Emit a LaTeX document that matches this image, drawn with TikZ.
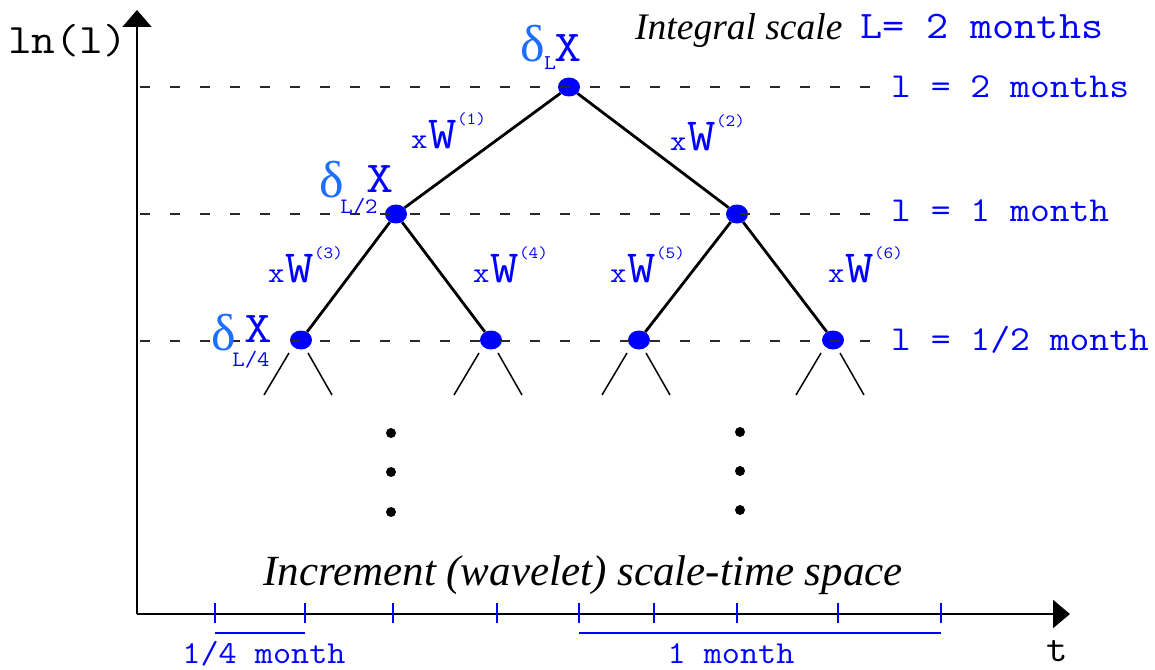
\documentclass[tikz,border=0pt]{standalone}
\usepackage{fontspec}
\usepackage{graphicx}
\setmainfont{Liberation Serif}
\usetikzlibrary{arrows.meta,shapes.geometric}
\definecolor{myblue}{RGB}{0,0,255}
\definecolor{dblue}{RGB}{30,110,255}
\definecolor{dashgray}{RGB}{40,40,40}
\newcommand\myfs[1]{\fontsize{#1}{#1}\selectfont}
\newcommand\cw[2]{\scalebox{1.1}[1]{\myfs{#1}#2}}
\newcommand\wlab[1]{\cw{29}{x}\kern1pt\scalebox{1.2}[1]{\myfs{46}W}\raisebox{24pt}{\cw{17}{(#1)}}}
\begin{document}
\begin{tikzpicture}[x=1pt,y=-1pt,
  bn/.style={ellipse,fill=myblue,draw=none,inner sep=0pt,minimum width=22pt,minimum height=19pt},
  dotn/.style={circle,fill=black,draw=none,inner sep=0pt,minimum size=10pt},
  tree/.style={line width=2.8pt,black},
  branch/.style={line width=1.5pt,black},
  dashline/.style={line width=1.2pt,dashgray,dash pattern=on 10pt off 20pt,dash phase=27pt},
  axis/.style={line width=2pt,black},
  tickmark/.style={line width=2pt,myblue},
  bar/.style={line width=2pt,myblue},
  mono/.style={inner sep=0pt,font=\ttfamily,text=myblue},
  dlt/.style={inner sep=0pt,text=dblue,font=\myfs{52}},
  ]
\path[use as bounding box] (0,0) rectangle (1155,669);

% axes
\coordinate (O) at (137,614);
\coordinate (Ytop) at (137,10);
\coordinate (Xend) at (1070,614);
\draw[axis,-{Triangle[length=17pt,width=29pt]}] (O) -- (Ytop);
\draw[axis,-{Triangle[length=17pt,width=28pt]}] (O) -- (Xend);

% ticks and bars
\foreach \x in {215,305,393,497,579,654,737,838,941}
  \draw[tickmark] (\x,603) -- (\x,623);
\coordinate (b1l) at (215,633); \coordinate (b1r) at (305,633);
\coordinate (b2l) at (579,633); \coordinate (b2r) at (941,633);
\draw[bar] (b1l) -- (b1r);
\draw[bar] (b2l) -- (b2r);

% tree nodes
\node[bn] (n0) at (569,87) {};
\node[bn] (n1) at (396,214) {};
\node[bn] (n2) at (737,214) {};
\node[bn] (n3) at (301,340) {};
\node[bn] (n4) at (491,340) {};
\node[bn] (n5) at (639,340) {};
\node[bn] (n6) at (833,340) {};

\draw[tree] (n0) -- (n1);
\draw[tree] (n0) -- (n2);
\draw[tree] (n1) -- (n3);
\draw[tree] (n1) -- (n4);
\draw[tree] (n2) -- (n5);
\draw[tree] (n2) -- (n6);

\foreach \n in {n3,n4,n5,n6}{
  \draw[branch] ([shift={(-12,13)}]\n.center) -- ([shift={(-37,55)}]\n.center);
  \draw[branch] ([shift={(7,13)}]\n.center) -- ([shift={(31,55)}]\n.center);
}

% dashed scale lines
\coordinate (d0l) at (137,87);  \coordinate (d0r) at (882,87);
\coordinate (d1l) at (137,214); \coordinate (d1r) at (882,214);
\coordinate (d2l) at (137,341); \coordinate (d2r) at (882,341);
\draw[dashline] (d0l) -- (d0r);
\draw[dashline] (d1l) -- (d1r);
\draw[dashline] (d2l) -- (d2r);

% vertical dots
\node[dotn] (da1) at (391,433) {};
\node[dotn] (da2) at (391,472) {};
\node[dotn] (da3) at (391,512) {};
\node[dotn] (db1) at (740,432) {};
\node[dotn] (db2) at (740,471) {};
\node[dotn] (db3) at (740,510) {};

% delta labels
\node[dlt,anchor=base] (dl0) at (533,62) {δ};
\node[mono,anchor=base] (sl0) at (550,70) {\cw{21}{L}};
\node[mono,anchor=base] (xl0) at (568,62) {\scalebox{1.2}[1]{\myfs{44}X}};

\node[dlt,anchor=base] (dl1) at (332,197) {δ};
\node[mono,anchor=base] (sl1) at (359,213) {\cw{22}{L/2}};
\node[mono,anchor=base] (xl1) at (380,192) {\scalebox{1.2}[1]{\myfs{44}X}};

\node[dlt,anchor=base] (dl2) at (224,350) {δ};
\node[mono,anchor=base] (sl2) at (251,366) {\cw{22}{L/4}};
\node[mono,anchor=base] (xl2) at (258,342) {\scalebox{1.2}[1]{\myfs{44}X}};

% weight labels
\node[mono,anchor=base west] (w1) at (411,148) {\wlab{1}};
\node[mono,anchor=base west] (w2) at (670,150) {\wlab{2}};
\node[mono,anchor=base west] (w3) at (268,282) {\wlab{3}};
\node[mono,anchor=base west] (w4) at (473,282) {\wlab{4}};
\node[mono,anchor=base west] (w5) at (610,282) {\wlab{5}};
\node[mono,anchor=base west] (w6) at (828,282) {\wlab{6}};

% texts
\node[inner sep=0pt,anchor=base west,font=\itshape\myfs{37.5}] (integ) at (635,40) {Integral scale};
\node[mono,anchor=base west] (Lval) at (860,38) {\cw{39}{L= 2 months}};
\node[mono,anchor=base west] (s0) at (891,97) {\cw{35}{l = 2 months}};
\node[mono,anchor=base west] (s1) at (891,221) {\cw{35}{l = 1 month}};
\node[mono,anchor=base west] (s2) at (891,350) {\cw{35}{l = 1/2 month}};
\node[inner sep=0pt,anchor=base west,font=\ttfamily] (ylab) at (8,54) {\cw{42}{ln(l)}};
\node[inner sep=0pt,anchor=base,font=\ttfamily] (xlab) at (1057,661) {\cw{38}{t}};
\node[inner sep=0pt,anchor=base,font=\itshape\myfs{43}] (title) at (583,585) {Increment (wavelet) scale-time space};
\node[mono,anchor=base] (q) at (264,663) {\cw{32}{1/4 month}};
\node[mono,anchor=base] (m) at (731,663) {\cw{32}{1 month}};
\end{tikzpicture}
\end{document}
